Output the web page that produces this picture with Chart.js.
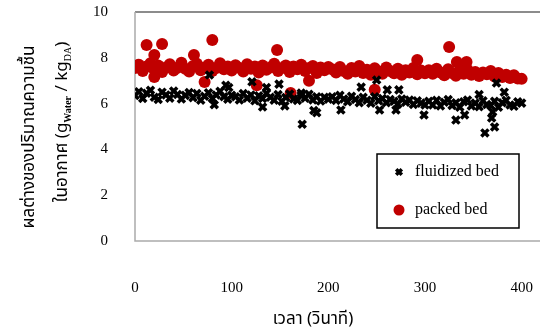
<!DOCTYPE html>
<html>
<head>
<meta charset="utf-8">
<script src="https://cdn.jsdelivr.net/npm/chart.js@4.4.1/dist/chart.umd.min.js"></script>
<style>
  html, body { margin: 0; padding: 0; background: #fff; }
  #wrap { width: 542px; height: 333px; }
</style>
</head>
<body>
<div id="wrap"><canvas id="dryerChart"></canvas></div>
<script>
// time (s) of the regular readings
const timeSec = [
  0, 4, 8, 12, 16, 20, 24, 28, 32, 36, 40, 44, 48, 52, 56, 60, 64, 68, 72, 76,
  80, 84, 88, 92, 96, 100, 104, 108, 112, 116, 120, 124, 128, 132, 136, 140, 144, 148, 152, 156,
  160, 164, 168, 172, 176, 180, 184, 188, 192, 196, 200, 204, 208, 212, 216, 220, 224, 228, 232, 236,
  240, 244, 248, 252, 256, 260, 264, 268, 272, 276, 280, 284, 288, 292, 296, 300, 304, 308, 312, 316,
  320, 324, 328, 332, 336, 340, 344, 348, 352, 356, 360, 364, 368, 372, 376, 380, 384, 388, 392, 396, 400
];
const fluidizedBed = [
  6.35, 6.52, 6.22, 6.45, 6.58, 6.28, 6.18, 6.50, 6.38, 6.24, 6.55, 6.40, 6.20, 6.36, 6.48, 6.26, 6.44, 6.15, 6.32, 6.47,
  6.22, 6.38, 6.54, 6.30, 6.19, 6.36, 6.30, 6.16, 6.44, 6.24, 6.38, 6.12, 6.34, 6.22, 6.45, 6.28, 6.15, 6.40, 6.10, 6.27,
  6.42, 6.20, 6.14, 6.36, 6.24, 6.41, 6.16, 6.30, 6.11, 6.28, 6.19, 6.30, 6.14, 6.36, 6.20, 6.08, 6.32, 6.18, 6.04, 6.28,
  6.15, 6.02, 6.30, 6.12, 6.22, 6.04, 6.18, 6.10, 5.98, 6.20, 6.06, 6.16, 5.96, 6.12, 6.02, 5.94, 6.10, 5.94, 6.14, 5.90,
  6.06, 6.18, 5.92, 6.04, 5.84, 6.08, 6.16, 5.90, 6.02, 5.86, 6.12, 5.96, 5.92, 6.10, 5.84, 6.04, 6.14, 5.94, 5.88, 6.08, 6.02
];
const packedBed = [
  7.55, 7.70, 7.42, 7.62, 7.76, 7.48, 7.66, 7.38, 7.58, 7.72, 7.45, 7.57, 7.78, 7.52, 7.40, 7.64, 7.74, 7.46, 7.58, 7.70,
  7.42, 7.55, 7.76, 7.50, 7.62, 7.44, 7.68, 7.56, 7.40, 7.72, 7.52, 7.62, 7.36, 7.66, 7.48, 7.58, 7.74, 7.42, 7.55, 7.66,
  7.38, 7.62, 7.50, 7.70, 7.42, 7.55, 7.64, 7.34, 7.58, 7.46, 7.60, 7.50, 7.36, 7.60, 7.42, 7.30, 7.56, 7.40, 7.64, 7.34,
  7.48, 7.26, 7.54, 7.40, 7.30, 7.58, 7.42, 7.32, 7.52, 7.26, 7.46, 7.36, 7.56, 7.28, 7.44, 7.32, 7.46, 7.30, 7.52, 7.36,
  7.24, 7.50, 7.34, 7.22, 7.46, 7.30, 7.48, 7.26, 7.38, 7.20, 7.36, 7.28, 7.42, 7.18, 7.34, 7.16, 7.26, 7.12, 7.24, 7.10, 7.08
];
// scattered readings away from the main band
const fluidizedExtraTime = [77, 82, 94, 97, 121, 132, 136, 149, 155, 172, 173, 185, 188, 213, 234, 250, 253, 261, 270, 273, 299, 332, 341, 356, 362, 369, 370, 372, 374, 382];
const fluidizedExtra = [7.25, 5.95, 6.8, 6.7, 6.95, 5.85, 6.7, 6.85, 5.9, 6.46, 5.1, 5.7, 5.6, 5.72, 6.72, 7.03, 5.72, 6.6, 5.72, 6.6, 5.5, 5.28, 5.5, 6.4, 4.72, 5.37, 5.63, 4.98, 6.9, 6.5];
const packedExtraTime = [12, 20, 20, 28, 61, 72, 80, 126, 147, 161, 180, 248, 292, 325, 333, 343];
const packedExtra = [8.56, 8.12, 7.16, 8.6, 8.12, 6.94, 8.78, 6.8, 8.34, 6.46, 7.0, 6.6, 7.9, 8.47, 7.82, 7.82];

const xTicks = [0, 100, 200, 300, 400];
const yTicks = [0, 2, 4, 6, 8, 10];
const seriesLabels = ["fluidized bed", "packed bed"];
const seriesColors = ["#000000", "#C00000"];
const xTitle = "เวลา (วินาที)";
const yTitle1 = "ผลต่างของปริมาณความชื้น";

function toPoints(xs, ys) {
  return xs.map((x, i) => ({ x: x, y: ys[i] }));
}

const thaiFont = '"Noto Sans Thai", "Tahoma", "DejaVu Sans", sans-serif';
const serifFont = '"Liberation Serif", "DejaVu Serif", serif';

// plot frame like the original (no gridlines)
const frame = {
  id: "frame",
  beforeDatasetsDraw(chart) {
    const a = chart.chartArea, ctx = chart.ctx;
    ctx.save();
    ctx.lineWidth = 1.5;
    ctx.strokeStyle = "#666";
    ctx.beginPath(); ctx.moveTo(a.left, a.top); ctx.lineTo(a.right, a.top); ctx.stroke();
    ctx.strokeStyle = "#aaa";
    ctx.beginPath(); ctx.moveTo(a.left, a.top); ctx.lineTo(a.left, a.bottom); ctx.lineTo(a.right, a.bottom); ctx.stroke();
    ctx.restore();
  }
};

// axis titles and boxed legend
const extras = {
  id: "extras",
  afterDraw(chart) {
    const ctx = chart.ctx;
    ctx.save();
    ctx.fillStyle = "#000";
    ctx.textBaseline = "middle";

    ctx.font = "17px " + thaiFont;
    ctx.textAlign = "center";
    ctx.fillText(xTitle, 313, 321);

    // y title, line 1
    ctx.save();
    ctx.translate(31, 137);
    ctx.rotate(-Math.PI / 2);
    ctx.fillText(yTitle1, 0, 0);
    ctx.restore();

    // y title, line 2 with subscripts
    const parts = [
      { t: "ในอากาศ (g", f: "17px " + thaiFont, dy: 0 },
      { t: "Water", f: "bold 10px " + serifFont, dy: 4 },
      { t: " / kg", f: "17px " + thaiFont, dy: 0 },
      { t: "DA", f: "10px " + serifFont, dy: 4 },
      { t: ")", f: "17px " + thaiFont, dy: 0 }
    ];
    let total = 0;
    parts.forEach(p => { ctx.font = p.f; p.w = ctx.measureText(p.t).width; total += p.w; });
    ctx.save();
    ctx.translate(64, 122);
    ctx.rotate(-Math.PI / 2);
    ctx.textAlign = "left";
    let x = -total / 2;
    parts.forEach(p => { ctx.font = p.f; ctx.fillText(p.t, x, p.dy); x += p.w; });
    ctx.restore();

    // legend box
    ctx.strokeStyle = "#000";
    ctx.lineWidth = 1.5;
    ctx.fillStyle = "#fff";
    ctx.fillRect(377, 154, 142, 74);
    ctx.strokeRect(377, 154, 142, 74);
    const rows = [172, 210];
    const legendRadius = [4, 5.5];
    chart.data.datasets.forEach((ds, i) => {
      ctx.fillStyle = seriesColors[i];
      ctx.strokeStyle = seriesColors[i];
      ctx.lineWidth = ds.borderWidth;
      Chart.helpers.drawPoint(ctx, {
        pointStyle: ds.pointStyle, radius: legendRadius[i], borderWidth: ds.borderWidth
      }, 399, rows[i]);
      ctx.fillStyle = "#000";
      ctx.font = "16px " + serifFont;
      ctx.textAlign = "left";
      ctx.fillText(ds.label, 415, rows[i]);
    });
    ctx.restore();
  }
};

const ctx = document.getElementById("dryerChart").getContext("2d");
const dryerChart = new Chart(ctx, {
  type: "scatter",
  data: {
    datasets: [
      {
        label: seriesLabels[0],
        data: toPoints(timeSec, fluidizedBed).concat(toPoints(fluidizedExtraTime, fluidizedExtra)),
        pointStyle: "crossRot",
        pointRadius: 5,
        borderWidth: 3.5,
        borderColor: seriesColors[0],
        backgroundColor: seriesColors[0]
      },
      {
        label: seriesLabels[1],
        data: toPoints(timeSec, packedBed).concat(toPoints(packedExtraTime, packedExtra)),
        pointStyle: "circle",
        pointRadius: 6,
        borderWidth: 0,
        borderColor: seriesColors[1],
        backgroundColor: seriesColors[1]
      }
    ]
  },
  options: {
    responsive: true,
    maintainAspectRatio: false,
    animation: false,
    layout: { padding: { top: 12, right: 2, left: 0, bottom: 0 }, autoPadding: false },
    plugins: { legend: { display: false }, tooltip: { enabled: false } },
    scales: {
      x: {
        type: "linear",
        min: 0,
        max: 419,
        grid: { display: false, drawTicks: false },
        border: { display: false },
        afterFit: function (scale) {
          scale.height = 92;
          scale.paddingLeft = 0; scale.paddingRight = 0;
        },
        afterBuildTicks: function (scale) { scale.ticks = xTicks.map(v => ({ value: v })); },
        ticks: { padding: 38, color: "#000", font: { family: serifFont, size: 15 }, maxRotation: 0 }
      },
      y: {
        min: 0,
        max: 10,
        grid: { display: false, drawTicks: false },
        border: { display: false },
        afterFit: function (scale) {
          scale.width = 135;
          scale.paddingTop = 0; scale.paddingBottom = 0;
        },
        afterBuildTicks: function (scale) { scale.ticks = yTicks.map(v => ({ value: v })); },
        ticks: { padding: 27, color: "#000", font: { family: serifFont, size: 15 } }
      }
    }
  },
  plugins: [frame, extras]
});
</script>
</body>
</html>
